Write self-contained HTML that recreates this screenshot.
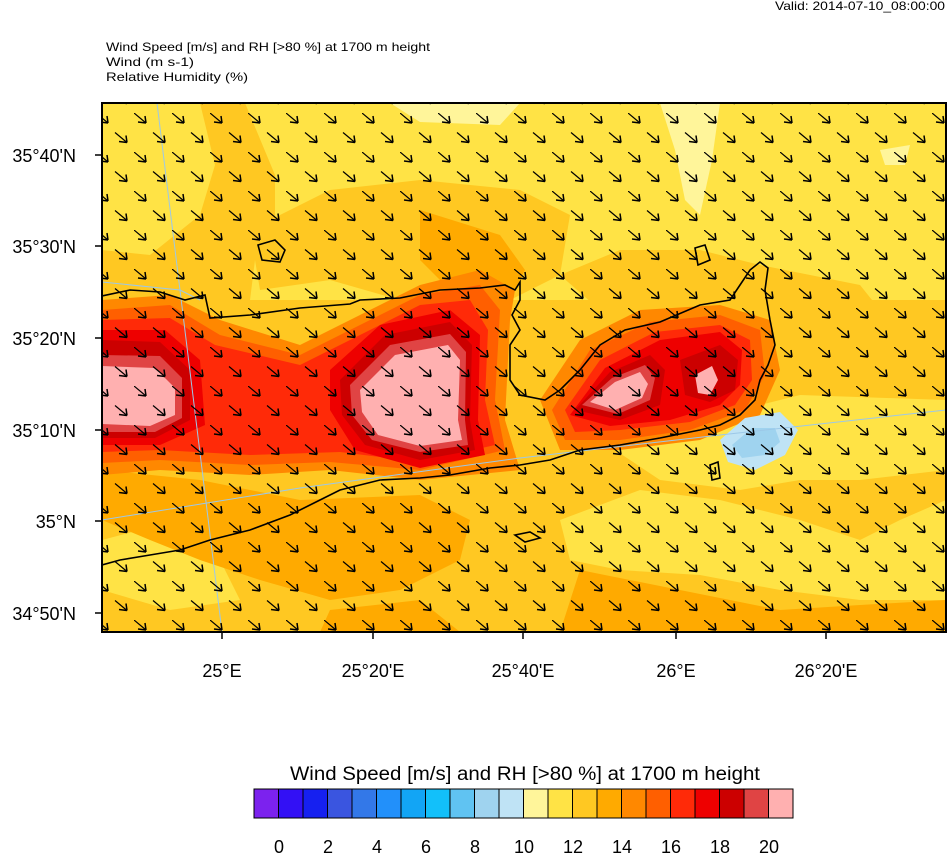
<!DOCTYPE html>
<html><head><meta charset="utf-8"><style>
body{margin:0;background:#fff;width:948px;height:854px;overflow:hidden;font-family:"Liberation Sans",sans-serif}
</style></head><body>
<svg width="948" height="854" style="position:absolute;left:0;top:0" xmlns="http://www.w3.org/2000/svg">
<defs>
<clipPath id="c"><rect x="102" y="103" width="844" height="529"/></clipPath>
<g id="a"><line x1="0" y1="0" x2="12" y2="10" stroke="#000" stroke-width="1.2"/><path d="M12 10 L4 9 M12 10 L11 3" stroke="#000" stroke-width="1.5" fill="none"/></g>
<pattern id="ar" x="96" y="113" width="38" height="39" patternUnits="userSpaceOnUse">
<use href="#a" x="0" y="0"/><use href="#a" x="19" y="19.5"/></pattern>
</defs>
<g font-family="Liberation Sans" fill="#000">
<text x="945" y="10" font-size="12" text-anchor="end" textLength="170" lengthAdjust="spacingAndGlyphs">Valid: 2014-07-10_08:00:00</text>
<text x="106" y="51" font-size="12" textLength="324" lengthAdjust="spacingAndGlyphs">Wind Speed [m/s] and RH [&gt;80 %] at 1700 m height</text>
<text x="106" y="66" font-size="12" textLength="88" lengthAdjust="spacingAndGlyphs">Wind   (m s-1)</text>
<text x="106" y="81" font-size="12" textLength="142" lengthAdjust="spacingAndGlyphs">Relative Humidity   (%)</text>
</g>
<g clip-path="url(#c)">
<rect x="102" y="103" width="844" height="529" fill="#ffe345"/>
<path d="M390 103 L520 103 L500 125 L420 122Z" fill="#fff59a"/>
<path d="M660 103 L720 103 L712 160 L700 215 L685 200 L675 150Z" fill="#fff59a"/>
<path d="M102 580 L140 600 L150 632 L102 632Z" fill="#fff59a"/>
<path d="M480 480 L540 470 L560 510 L520 520 L485 505Z" fill="#fff59a"/>
<path d="M880 150 L910 145 L905 165 L885 165Z" fill="#fff59a"/>
<path d="M200 103 L245 103 L275 175 L275 230 L255 260 L250 300 L102 300 L102 250 L150 255 L200 215 L215 165Z" fill="#ffc822"/>
<path d="M250 230 L330 190 L420 180 L520 190 L570 215 L560 275 L510 300 L400 300 L330 280 L260 290Z" fill="#ffc822"/>
<path d="M560 275 L620 250 L700 250 L760 265 L860 285 L880 310 L840 335 L780 350 L700 320 L600 310Z" fill="#ffc822"/>
<path d="M102 300 L946 300 L946 632 L102 632Z" fill="#ffc822"/>
<path d="M600 440 L700 420 L800 395 L946 400 L946 470 L860 480 L800 480 L740 490 L660 480Z" fill="#ffe345"/>
<path d="M560 520 L640 490 L720 500 L800 520 L860 540 L900 520 L946 500 L946 600 L860 600 L780 590 L700 575 L620 570 L570 560Z" fill="#ffe345"/>
<path d="M102 540 L140 530 L220 560 L240 600 L170 610 L102 590Z" fill="#ffe345"/>
<path d="M102 470 L200 480 L300 500 L420 495 L470 520 L460 560 L400 590 L330 600 L260 580 L200 560 L150 540 L102 520Z" fill="#ffaa00"/>
<path d="M580 570 L680 590 L780 610 L860 605 L946 600 L946 632 L560 632Z" fill="#ffaa00"/>
<path d="M330 610 L420 600 L460 632 L320 632Z" fill="#ffaa00"/>
<path d="M420 210 L500 235 L525 270 L510 300 L450 290 L420 260Z" fill="#ffaa00"/>
<path d="M102 300 L170 295 L220 320 L300 345 L350 320 L420 285 L480 270 L515 290 L510 320 L505 420 L520 470 L420 480 L330 470 L250 475 L160 470 L102 475Z" fill="#ff8800"/>
<path d="M540 400 L580 340 L640 310 L720 305 L770 320 L780 370 L760 415 L700 440 L620 450 L560 450Z" fill="#ff8800"/>
<path d="M102 310 L170 305 L220 335 L300 355 L360 325 L420 295 L480 285 L500 310 L495 400 L505 450 L420 470 L330 462 L250 465 L160 460 L102 463Z" fill="#ff5f00"/>
<path d="M552 410 L590 350 L650 322 L720 315 L760 330 L765 375 L745 410 L690 430 L620 440 L565 440Z" fill="#ff5f00"/>
<path d="M102 320 L170 318 L215 345 L300 365 L360 335 L420 305 L470 300 L488 330 L485 400 L495 445 L420 462 L340 452 L250 455 L160 450 L102 452Z" fill="#ff2a08"/>
<path d="M565 410 L600 360 L655 332 L720 325 L750 340 L752 380 L735 405 L690 422 L620 430 L575 432Z" fill="#ff2a08"/>
<path d="M102 330 L165 330 L200 360 L205 425 L160 445 L102 445Z" fill="#ee0000"/>
<path d="M330 370 L380 325 L450 310 L480 335 L478 420 L485 455 L420 468 L355 450 L330 410Z" fill="#ee0000"/>
<path d="M570 415 L605 368 L660 340 L720 332 L742 350 L740 385 L720 405 L670 420 L610 426Z" fill="#ee0000"/>
<path d="M102 340 L160 342 L190 370 L190 420 L155 438 L102 438Z" fill="#cc0000"/>
<path d="M340 380 L385 335 L450 322 L472 345 L470 420 L475 450 L420 460 L365 445 L342 415Z" fill="#cc0000"/>
<path d="M575 410 L610 372 L650 355 L665 370 L660 405 L620 420Z" fill="#cc0000"/>
<path d="M680 360 L720 345 L738 360 L735 390 L710 402 L685 395Z" fill="#cc0000"/>
<path d="M102 355 L160 356 L182 378 L182 418 L155 432 L102 432Z" fill="#e04444"/>
<path d="M350 385 L390 345 L450 334 L466 352 L465 420 L468 445 L420 452 L372 440 L352 415Z" fill="#e04444"/>
<path d="M582 405 L612 378 L645 365 L655 378 L650 400 L618 414Z" fill="#e04444"/>
<path d="M102 366 L155 368 L175 388 L175 415 L150 426 L102 424Z" fill="#ffb0b0"/>
<path d="M360 390 L395 355 L448 345 L460 360 L458 420 L462 440 L420 446 L378 435 L362 412Z" fill="#ffb0b0"/>
<path d="M590 402 L615 382 L640 372 L648 384 L642 398 L615 410Z" fill="#ffb0b0"/>
<path d="M695 375 L712 366 L718 380 L710 395 L698 393Z" fill="#ffb0b0"/>
<path d="M720 440 L745 418 L780 412 L798 430 L785 455 L755 470 L728 462Z" fill="#bfe3f5"/>
<path d="M732 445 L752 428 L775 428 L780 442 L765 455 L742 458Z" fill="#9fd3ef"/>
<g stroke="#9cc8e8" stroke-width="1" fill="none">
<path d="M157 103 L222 632"/><path d="M102 520 L300 488 L520 458 L720 435 L946 410"/><path d="M102 282 L180 290 L200 300"/>
</g>
<g stroke="#000" stroke-width="1.6" fill="none">
<path d="M102 296 L130 290 L160 292 L185 300 L205 295 L210 318 L250 315 L300 308 L350 304 L360 300 L400 298 L440 290 L480 288 L505 285 L515 290 L520 282 L520 300 L512 315 L520 330 L510 345 L510 380 L520 395 L545 400 L560 390 L580 370 L600 345 L625 330 L660 322 L700 305 L730 300 L740 285 L750 270 L760 262 L768 268 L765 290 L770 320 L775 345 L768 365 L760 380 L755 400 L740 415 L720 425 L700 430 L660 438 L620 445 L580 450 L550 460 L520 465 L490 468 L450 475 L420 478 L380 480 L340 490 L320 500 L290 515 L250 530 L210 540 L180 550 L150 555 L120 560 L102 565"/>
<path d="M258 245 L275 240 L285 250 L280 262 L262 260Z"/>
<path d="M695 248 L705 245 L710 260 L698 265Z"/>
<path d="M515 535 L530 532 L540 538 L525 542Z"/>
<path d="M710 465 L718 462 L720 478 L712 480Z"/>
</g>
<rect x="102" y="103" width="844" height="529" fill="url(#ar)"/>
</g>
<rect x="102" y="103" width="844" height="529" fill="none" stroke="#000" stroke-width="2"/>
<g stroke="#000" stroke-width="1.5">
<line x1="95" y1="155" x2="102" y2="155"/><line x1="95" y1="246" x2="102" y2="246"/><line x1="95" y1="338" x2="102" y2="338"/><line x1="95" y1="430" x2="102" y2="430"/><line x1="95" y1="521" x2="102" y2="521"/><line x1="95" y1="613" x2="102" y2="613"/>
<line x1="222" y1="632" x2="222" y2="639"/><line x1="373" y1="632" x2="373" y2="639"/><line x1="523" y1="632" x2="523" y2="639"/><line x1="676" y1="632" x2="676" y2="639"/><line x1="826" y1="632" x2="826" y2="639"/>
</g>
<g font-family="Liberation Sans" font-size="18" fill="#000" text-anchor="end">
<text x="76" y="162">35°40'N</text><text x="76" y="253">35°30'N</text><text x="76" y="345">35°20'N</text><text x="76" y="437">35°10'N</text><text x="76" y="528">35°N</text><text x="76" y="620">34°50'N</text>
</g>
<g font-family="Liberation Sans" font-size="18" fill="#000" text-anchor="middle">
<text x="222" y="677">25°E</text><text x="373" y="677">25°20'E</text><text x="523" y="677">25°40'E</text><text x="676" y="677">26°E</text><text x="826" y="677">26°20'E</text>
</g>
<text x="290" y="780" font-family="Liberation Sans" font-size="19" textLength="470" lengthAdjust="spacingAndGlyphs">Wind Speed [m/s] and RH [&gt;80 %] at 1700 m height</text>
<g stroke="#000" stroke-width="1">
<rect x="254" y="789" width="24.5" height="29" fill="#7c22ee"/><rect x="278.5" y="789" width="24.5" height="29" fill="#3310f5"/><rect x="303" y="789" width="24.5" height="29" fill="#1620f0"/><rect x="327.5" y="789" width="24.5" height="29" fill="#3a55e0"/><rect x="352" y="789" width="24.5" height="29" fill="#3378e8"/><rect x="376.5" y="789" width="24.5" height="29" fill="#2290fa"/><rect x="401" y="789" width="24.5" height="29" fill="#12a5f5"/><rect x="425.5" y="789" width="24.5" height="29" fill="#12c0fa"/><rect x="450" y="789" width="24.5" height="29" fill="#60c3f2"/><rect x="474.5" y="789" width="24.5" height="29" fill="#9fd3ef"/><rect x="499" y="789" width="24.5" height="29" fill="#bfe3f5"/><rect x="523.5" y="789" width="24.5" height="29" fill="#fff59a"/><rect x="548" y="789" width="24.5" height="29" fill="#ffe345"/><rect x="572.5" y="789" width="24.5" height="29" fill="#ffc822"/><rect x="597" y="789" width="24.5" height="29" fill="#ffaa00"/><rect x="621.5" y="789" width="24.5" height="29" fill="#ff8800"/><rect x="646" y="789" width="24.5" height="29" fill="#ff5f00"/><rect x="670.5" y="789" width="24.5" height="29" fill="#ff2a08"/><rect x="695" y="789" width="24.5" height="29" fill="#ee0000"/><rect x="719.5" y="789" width="24.5" height="29" fill="#cc0000"/><rect x="744" y="789" width="24.5" height="29" fill="#e04444"/><rect x="768.5" y="789" width="24.5" height="29" fill="#ffb0b0"/>
</g>
<g font-family="Liberation Sans" font-size="18" text-anchor="middle">
<text x="279" y="853">0</text><text x="328" y="853">2</text><text x="377" y="853">4</text><text x="426" y="853">6</text><text x="475" y="853">8</text><text x="524" y="853">10</text><text x="573" y="853">12</text><text x="622" y="853">14</text><text x="671" y="853">16</text><text x="720" y="853">18</text><text x="769" y="853">20</text>
</g>
</svg>
</body></html>
